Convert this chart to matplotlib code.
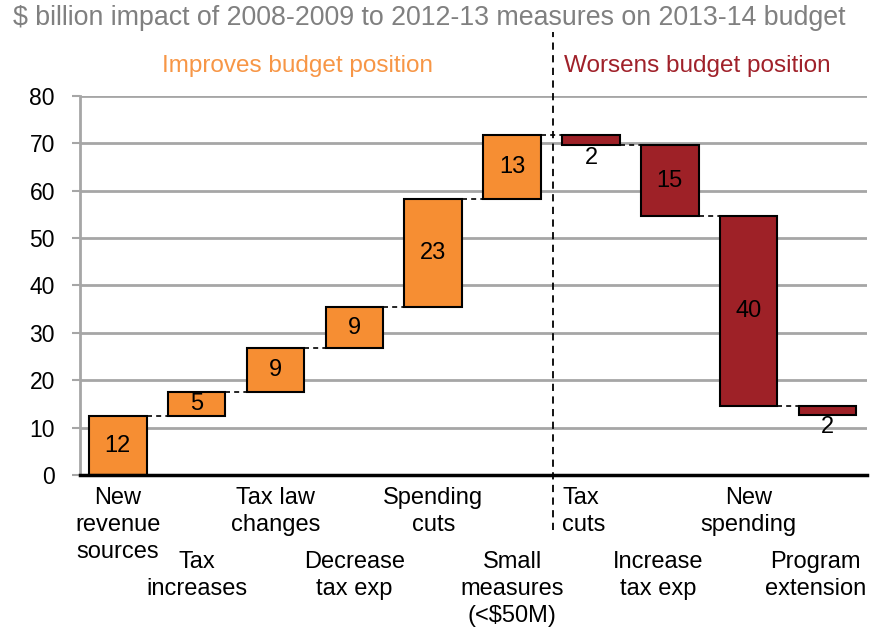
import matplotlib
matplotlib.use("Agg")
import matplotlib.pyplot as plt
import matplotlib.transforms as mtransforms
import numpy as np

plt.rcParams['font.family'] = ['Liberation Sans', 'DejaVu Sans']

# ---- data ----
categories = ["New\nrevenue\nsources", "Tax\nincreases", "Tax law\nchanges", "Decrease\ntax exp",
              "Spending\ncuts", "Small\nmeasures\n(<$50M)", "Tax\ncuts", "Increase\ntax exp",
              "New\nspending", "Program\nextension"]
changes = [12.4, 5.2, 9.1, 8.8, 22.8, 13.4, -2.2, -14.9, -40.05, -1.9]
value_labels = ["12", "5", "9", "9", "23", "13", "2", "15", "40", "2"]
yticks = [0, 10, 20, 30, 40, 50, 60, 70, 80]
title = "$ billion impact of 2008-2009 to 2012-13 measures on 2013-14 budget"
left_header = "Improves budget position"
right_header = "Worsens budget position"

# ---- style ----
ORANGE = '#F68E33'
RED = '#9E2127'
GRID = '#A6A6A6'
W = 0.73

fig = plt.figure(figsize=(8.81, 6.30), dpi=100)
ax = fig.add_axes([80/881, 1-475/630, (867-80)/881, (475-95.7)/630])

n = len(changes)
x = np.arange(n)
ends = np.cumsum(changes)
starts = ends - np.array(changes)
bottoms = np.minimum(starts, ends)
heights = np.abs(changes)
colors = [ORANGE if c > 0 else RED for c in changes]

ax.bar(x, heights, bottom=bottoms, width=W, color=colors, edgecolor='black', linewidth=1.5, zorder=3)

# connectors
for i in range(n - 1):
    ax.plot([x[i] + W/2, x[i+1] - W/2], [ends[i], ends[i]], color='black',
            linestyle=(0, (3, 2.5)), linewidth=1.2, zorder=3)

# value labels
for i in range(n):
    if heights[i] < 4:
        ax.text(x[i], bottoms[i] - 0.3, value_labels[i], ha='center', va='top', fontsize=17, zorder=4)
    else:
        ax.text(x[i], bottoms[i] + heights[i]/2, value_labels[i], ha='center', va='center',
                fontsize=17, zorder=4)

ax.set_ylim(0, 80)
ax.set_xlim(-0.48, 9.5)
ax.set_yticks(yticks)
ax.set_yticklabels([str(v) for v in yticks], fontsize=16.5)
ax.tick_params(axis='y', direction='out', length=6, width=1.5, color=GRID, pad=12)
ax.set_xticks([])
ax.yaxis.grid(True, color=GRID, linewidth=2, zorder=0)
ax.set_axisbelow(True)
for s in ['top', 'right']:
    ax.spines[s].set_visible(False)
ax.spines['left'].set_color(GRID)
ax.spines['left'].set_linewidth(2)
ax.spines['bottom'].set_color('black')
ax.spines['bottom'].set_linewidth(2.5)
ax.spines['bottom'].set_zorder(5)

# category labels (two staggered rows)
trans = mtransforms.blended_transform_factory(ax.transData, ax.transAxes)
for i, lab in enumerate(categories):
    row_off = -12 if i % 2 == 0 else -76
    xi = x[i]
    ha = 'center'
    dx = 0
    if i == 6:
        xi = x[i] - W/2
        ha = 'left'
    elif i in (7, 9):
        dx = -12
    ax.annotate(lab, xy=(xi, 0), xycoords=trans, xytext=(dx, row_off), textcoords='offset pixels',
                ha=ha, va='top', fontsize=17, linespacing=1.3, multialignment=ha,
                annotation_clip=False)

# divider
ax.plot([5.52, 5.52], [-0.145, 1.168], transform=trans, color='black', linestyle=(0, (4, 3)),
        linewidth=1.3, clip_on=False, zorder=6)

fig.text(13/881, 1-18/630, title, fontsize=19.3, color='#808080', ha='left', va='center')
fig.text(297/881, 1-66/630, left_header, fontsize=17.5, color='#F79646', ha='center', va='center')
fig.text(697/881, 1-66/630, right_header, fontsize=17.5, color='#A0212A', ha='center', va='center')

fig.savefig("out.png", dpi=100)
